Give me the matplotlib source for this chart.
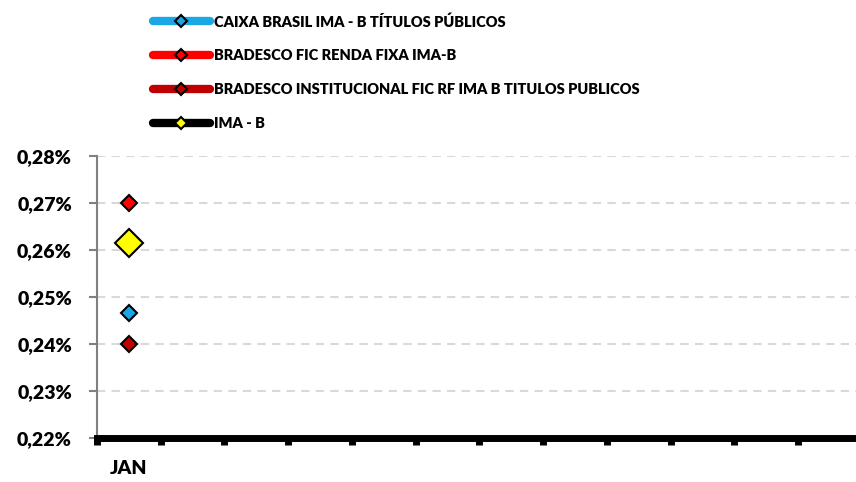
import matplotlib.pyplot as plt
from matplotlib.lines import Line2D
from matplotlib.ticker import FuncFormatter, FixedLocator

months = ['JAN', '', '', '', '', '', '', '', '', '', '', '']
series_names = ['CAIXA BRASIL IMA - B TÍTULOS PÚBLICOS',
                'BRADESCO FIC RENDA FIXA IMA-B',
                'BRADESCO INSTITUCIONAL FIC RF IMA B TITULOS PUBLICOS',
                'IMA - B']
caixa = [0.2466]
bradesco_fic = [0.270]
bradesco_inst = [0.240]
ima_b = [0.2614]
yticks = [0.22, 0.23, 0.24, 0.25, 0.26, 0.27, 0.28]

line_colors = ['#1AA7E6', '#FF0000', '#C00000', '#000000']
face_colors = ['#1AA7E6', '#FF0000', '#C00000', '#FFFF00']
marker_sizes = [8, 8, 8, 14]

plt.rcParams['font.family'] = ['Lato', 'DejaVu Sans']
plt.rcParams['font.weight'] = 'heavy'

fig = plt.figure(figsize=(8.56, 4.82), dpi=100)
ax = fig.add_axes([0.1133, 0.0919, 0.8937, 0.5844])

for vals, name, lc, fc, ms in zip([caixa, bradesco_fic, bradesco_inst, ima_b],
                                  series_names, line_colors, face_colors, marker_sizes):
    ax.plot(range(len(vals)), vals, color=lc, lw=5, marker='D', ms=ms,
            mfc=fc, mec='black', mew=1.5, label=name, zorder=3)

ax.set_xlim(-0.5, 11.5)
ax.set_ylim(0.22, 0.28)
ax.set_yticks(yticks)
ax.yaxis.set_major_formatter(FuncFormatter(lambda v, p: f'{v:.2f}%'.replace('.', ',')))
ax.set_xticks(range(len(months)))
ax.set_xticklabels(months)
ax.xaxis.set_minor_locator(FixedLocator([i - 0.5 for i in range(len(months) + 1)]))
ax.tick_params(axis='x', which='major', length=0, pad=16, labelsize=14)
ax.tick_params(axis='x', which='minor', length=5, width=5, color='black')
ax.tick_params(axis='y', length=6, width=1.5, color='#808080', labelsize=14, pad=12)
for lab in ax.get_xticklabels() + ax.get_yticklabels():
    lab.set_fontweight('heavy')

ax.grid(axis='y', color='#D9D9D9', lw=1.5, ls=(0, (4, 3)))
ax.set_axisbelow(True)
for s in ['top', 'right']:
    ax.spines[s].set_visible(False)
ax.spines['left'].set_color('#808080')
ax.spines['left'].set_linewidth(1.5)
ax.spines['bottom'].set_color('black')
ax.spines['bottom'].set_linewidth(5)

handles = [Line2D([], [], color=lc, lw=6, marker='D', ms=6, mfc=fc, mec='black',
                  mew=1.5, solid_capstyle='round')
           for lc, fc in zip(line_colors, face_colors)]
fig.legend(handles, series_names, loc='upper left', bbox_to_anchor=(0.163, 0.998),
           frameon=False, handlelength=3.9, handletextpad=0.3, labelspacing=1.43,
           prop={'weight': 'heavy', 'size': 10.5})

fig.savefig('out.png', dpi=100)
